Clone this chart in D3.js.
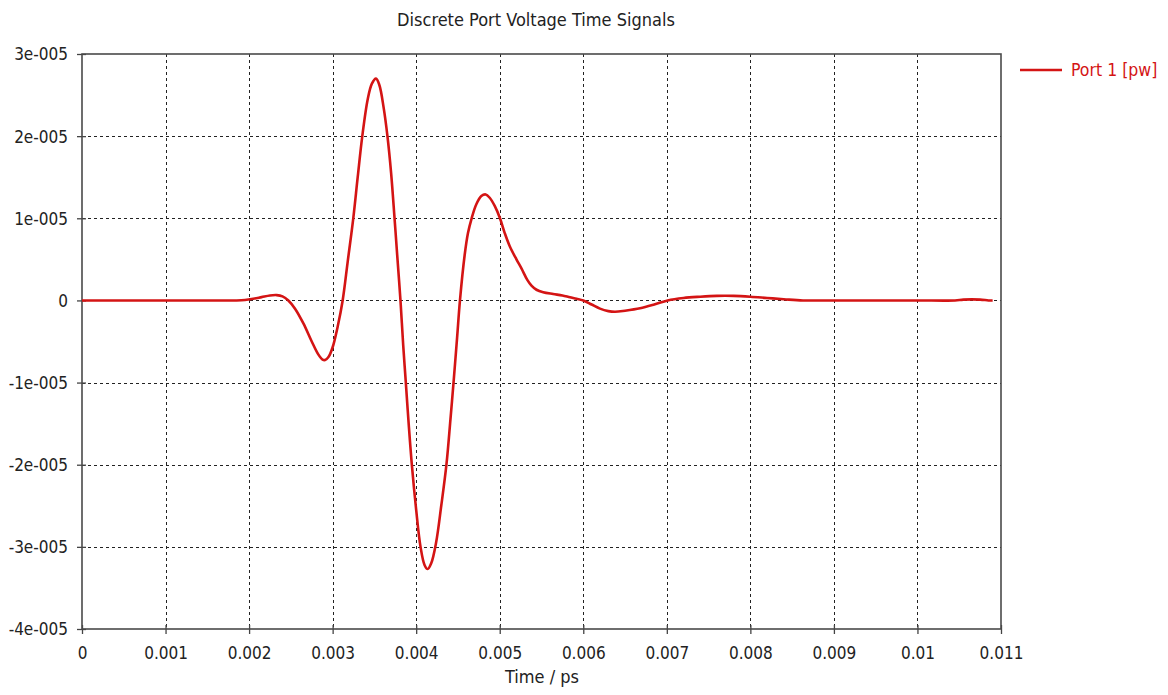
<!DOCTYPE html>
<html>
<head>
<meta charset="utf-8">
<script src="https://cdn.jsdelivr.net/npm/d3@7/dist/d3.min.js"></script>
<style>
  html, body { margin: 0; padding: 0; background: #fff; }
  svg { display: block; }
  .lbl { font-family: "DejaVu Sans Condensed", "DejaVu Sans", sans-serif; font-stretch: condensed; fill: #222; }
</style>
</head>
<body>
<svg id="chart" width="1168" height="695"></svg>
<script>
// ---- data (time in ps, voltage) ----
const timePs = [
  0.0000, 0.0005, 0.0010, 0.0015, 0.00185, 0.00195, 0.00205, 0.00215, 0.00225, 0.00233,
  0.00240, 0.00247, 0.00255, 0.00265, 0.00275, 0.00283, 0.00288, 0.00291, 0.00295, 0.00300,
  0.00306, 0.00312, 0.00318, 0.003247, 0.00330, 0.003355, 0.00342, 0.00347, 0.003519, 0.00356,
  0.00361, 0.003656, 0.00370, 0.003741, 0.00378, 0.003812, 0.003845, 0.003876, 0.00391, 0.003948,
  0.00400, 0.004052, 0.00410, 0.004137, 0.00418, 0.004238, 0.00430, 0.004362, 0.00441, 0.004447,
  0.00449, 0.004524, 0.00458, 0.00462, 0.004664, 0.00472, 0.00478, 0.004832, 0.00488, 0.00494,
  0.005003, 0.00506, 0.00512, 0.00520, 0.00526, 0.00533, 0.00538, 0.00544, 0.00552, 0.00564, 0.00575,
  0.00584, 0.00592, 0.00600, 0.00610, 0.00620, 0.00630, 0.00638, 0.00650, 0.00668, 0.00685,
  0.00701, 0.00720, 0.00740, 0.00760, 0.00780, 0.00800, 0.00820, 0.00840, 0.00863, 0.00900,
  0.00950, 0.01000, 0.01045, 0.01055, 0.01075, 0.01085, 0.01090
];
const voltage = [
  0, 0, 0, 0, 0, 0.005e-5, 0.02e-5, 0.04e-5, 0.06e-5, 0.065e-5,
  0.05e-5, 0.0, -0.10e-5, -0.28e-5, -0.50e-5, -0.66e-5, -0.72e-5, -0.725e-5, -0.69e-5, -0.57e-5,
  -0.32e-5, 0.0, 0.47e-5, 1.00e-5, 1.50e-5, 2.00e-5, 2.45e-5, 2.64e-5, 2.70e-5, 2.62e-5,
  2.35e-5, 2.00e-5, 1.55e-5, 1.00e-5, 0.45e-5, 0.0, -0.55e-5, -1.00e-5, -1.50e-5, -2.00e-5,
  -2.55e-5, -3.00e-5, -3.22e-5, -3.27e-5, -3.20e-5, -2.95e-5, -2.50e-5, -2.00e-5, -1.45e-5, -1.00e-5,
  -0.45e-5, 0.0, 0.55e-5, 0.82e-5, 1.00e-5, 1.17e-5, 1.27e-5, 1.29e-5, 1.25e-5, 1.15e-5,
  1.00e-5, 0.82e-5, 0.66e-5, 0.50e-5, 0.39e-5, 0.25e-5, 0.18e-5, 0.13e-5, 0.10e-5, 0.078e-5, 0.06e-5,
  0.038e-5, 0.02e-5, 0.0, -0.05e-5, -0.10e-5, -0.13e-5, -0.138e-5, -0.125e-5, -0.096e-5, -0.05e-5,
  0.0, 0.03e-5, 0.045e-5, 0.055e-5, 0.055e-5, 0.045e-5, 0.03e-5, 0.015e-5, 0.0, 0,
  0, 0, 0, 0.01e-5, 0.01e-5, 0.0, 0.0
];
const xTicks = [0, 0.001, 0.002, 0.003, 0.004, 0.005, 0.006, 0.007, 0.008, 0.009, 0.01, 0.011];
const xTickLabels = ["0", "0.001", "0.002", "0.003", "0.004", "0.005", "0.006", "0.007", "0.008", "0.009", "0.01", "0.011"];
const yTicks = [3e-5, 2e-5, 1e-5, 0, -1e-5, -2e-5, -3e-5, -4e-5];
const yTickLabels = ["3e-005", "2e-005", "1e-005", "0", "-1e-005", "-2e-005", "-3e-005", "-4e-005"];
const seriesName = "Port 1 [pw]";
const titleText = "Discrete Port Voltage Time Signals";
const xTitle = "Time / ps";

// ---- layout ----
const L = 82, R = 1001, T = 54, B = 629;
const red = "#d41414";
const svg = d3.select("#chart");

const x = d3.scaleLinear().domain([0, 0.011]).range([L, R]);
const y = d3.scaleLinear().domain([-4e-5, 3e-5]).range([B, T]);

// grid
const grid = svg.append("g");
grid.selectAll(".gx").data(xTicks.slice(1, -1)).join("line")
  .attr("x1", d => Math.round(x(d)) + 0.5).attr("x2", d => Math.round(x(d)) + 0.5)
  .attr("y1", T).attr("y2", B)
  .attr("stroke", "#222").attr("stroke-width", 1).attr("stroke-dasharray", "3,3");
grid.selectAll(".gy").data(yTicks.slice(1, -1)).join("line")
  .attr("y1", d => Math.round(y(d)) + 0.5).attr("y2", d => Math.round(y(d)) + 0.5)
  .attr("x1", L).attr("x2", R)
  .attr("stroke", "#222").attr("stroke-width", 1).attr("stroke-dasharray", "3,3");

// axes
const xAxis = d3.axisBottom(x).tickValues(xTicks).tickFormat((d, i) => xTickLabels[i]).tickSize(5).tickSizeOuter(0);
const gx = svg.append("g").attr("transform", `translate(0,${B})`).call(xAxis);
gx.select(".domain").remove();
gx.selectAll(".tick line").attr("stroke", "#444").attr("stroke-width", 1.3).attr("y1", -4);
gx.selectAll(".tick text").attr("class", "lbl").attr("font-size", 17).attr("dy", 0).attr("y", 30);

const yAxis = d3.axisLeft(y).tickValues(yTicks).tickFormat((d, i) => yTickLabels[i]).tickSize(5).tickSizeOuter(0);
const gy = svg.append("g").attr("transform", `translate(${L},0)`).call(yAxis);
gy.select(".domain").remove();
gy.selectAll(".tick line").attr("stroke", "#444").attr("stroke-width", 1.3).attr("x1", 4);
gy.selectAll(".tick text").attr("class", "lbl").attr("font-size", 17).attr("x", -14).attr("dy", "0.35em");

// frame
svg.append("rect").attr("x", L).attr("y", T).attr("width", R - L).attr("height", B - T)
  .attr("fill", "none").attr("stroke", "#4a4a4a").attr("stroke-width", 1.6);

// series
const pts = timePs.map((t, i) => [t, voltage[i]]);
const line = d3.line().x(d => x(d[0])).y(d => y(d[1])).curve(d3.curveCatmullRom.alpha(0.5));
svg.append("path").datum(pts).attr("d", line)
  .attr("fill", "none").attr("stroke", red).attr("stroke-width", 2.6).attr("stroke-linejoin", "round");

// title
svg.append("text").attr("class", "lbl").attr("x", 536).attr("y", 26)
  .attr("text-anchor", "middle").attr("font-size", 18).text(titleText);

// x title
svg.append("text").attr("class", "lbl").attr("x", 542).attr("y", 683)
  .attr("text-anchor", "middle").attr("font-size", 18).text(xTitle);

// legend
svg.append("line").attr("x1", 1020).attr("x2", 1062).attr("y1", 70).attr("y2", 70)
  .attr("stroke", red).attr("stroke-width", 2.6);
svg.append("text").attr("class", "lbl").attr("x", 1071).attr("y", 76)
  .attr("font-size", 17.5).style("fill", red).text(seriesName);
</script>
</body>
</html>
